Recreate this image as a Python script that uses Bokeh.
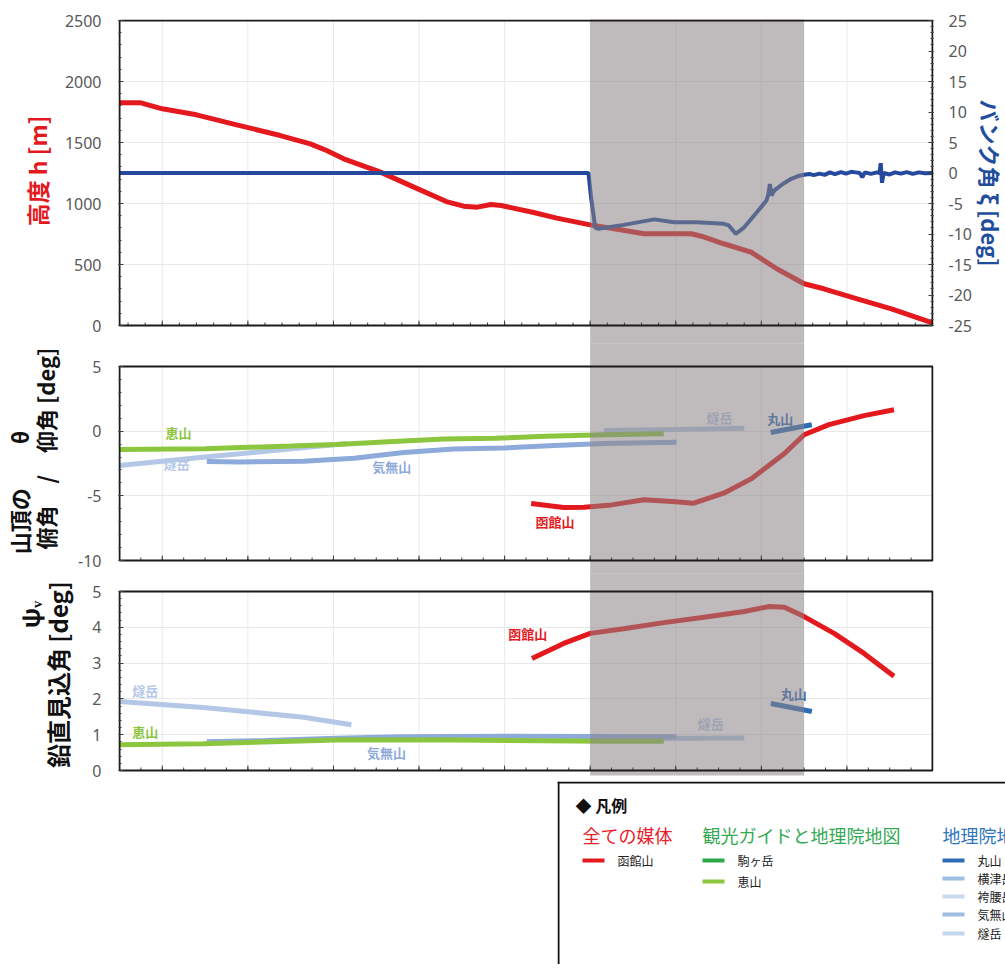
from bokeh.plotting import figure
from bokeh.layouts import column, row
from bokeh.models import Range1d, LinearAxis, FixedTicker, Spacer, CustomJSTickFormatter
from bokeh.embed import file_html
from bokeh.resources import INLINE
from bokeh.core.properties import value

nan = float("nan")

# ---------------- data ----------------
# time axis (arbitrary units, the original shows no x tick labels)
x_major = [0, 10, 20, 30, 40, 50, 60, 70, 80, 90]
x_minor_top = [-4 + 2 * i for i in range(48)]
x_minor_low = [-2.5 + 2.5 * i for i in range(38)]

alt_t = [-5, -2.5, 0, 4, 8.7, 13.8, 17.3, 19.2, 21.2, 25.5, 29.4, 33.2, 35.2, 36.8, 38.4, 39.6,
         43.4, 46.1, 50, 52.8, 56.3, 61.8, 63, 65.6, 68.8, 71.8, 75, 77.3, 81.2, 85.2, 90]
alt_h = [1825, 1825, 1776, 1727, 1645, 1557, 1489, 1434, 1366, 1257, 1134, 1016, 978, 970, 992, 984,
         926, 880, 825, 793, 752, 752, 732, 670, 601, 465, 342, 301, 219, 137, 22]

bank_t = [-5, 49.8, 50.1, 50.6, 51.0, 53.9, 57.5, 59.8, 62.5, 65.6, 66.2, 67.0, 68.0, 69.5, 70.6,
          70.8, 71.0, 71.2, 71.5, 72.5, 73.5, 74.3, 75, 75.6, 76.1, 76.8, 77.4, 78, 78.6, 79.3,
          79.9, 80.5, 81, 81.5, 81.8, 82.1, 82.8, 83.5, 83.8, 83.95, 84.1, 84.3, 85, 85.6, 86.3,
          87, 87.7, 88.4, 89.1, 90]
bank_v = [0, 0, -4, -9.0, -9.15, -8.5, -7.6, -8.06, -8.06, -8.33, -8.6, -9.97, -8.9, -6.4, -4.5,
          -3.6, -1.8, -3.7, -2.9, -1.8, -0.95, -0.5, -0.3, -0.15, -0.35, -0.1, -0.3, 0.1, -0.2,
          0.15, -0.1, 0.2, 0.1, 0.0, -0.7, 0.1, -0.15, 0.1, 0.0, 1.6, -1.6, 0.0, -0.25, 0.1,
          -0.1, 0.15, -0.15, 0.1, -0.05, 0.0]

# middle panel: summit depression / elevation angle theta [deg]
th_hako_t = [43.1, 46.9, 49.3, 52.5, 56.3, 60, 62.1, 65.6, 68.8, 72.7, 75, 77.9, 82, 85.5]
th_hako_v = [-5.6, -5.9, -5.88, -5.7, -5.3, -5.45, -5.57, -4.8, -3.69, -1.73, -0.28, 0.51, 1.2, 1.65]
th_eyama_t = [-5, 5, 15, 20.4, 27, 32.9, 38.9, 44.8, 51.6, 58.6]
th_eyama_v = [-1.42, -1.35, -1.15, -1.03, -0.8, -0.6, -0.55, -0.4, -0.28, -0.2]
th_hiuchi_t = [-5, 5, 13, 21.6, 21.7, 51.6, 60, 68]
th_hiuchi_v = [-2.65, -2.0, -1.5, -0.95, nan, 0.05, 0.12, 0.22]
th_kenashi_t = [5.2, 9, 16.5, 22.4, 28.2, 34.1, 39.9, 45.8, 51.6, 60.1]
th_kenashi_v = [-2.35, -2.38, -2.32, -2.1, -1.65, -1.37, -1.3, -1.1, -0.95, -0.85]
th_maru_t = [71.1, 73.5, 75.9]
th_maru_v = [-0.1, 0.2, 0.5]

# bottom panel: vertical visual angle psi_v [deg]
ps_hako_t = [43.2, 46.9, 50, 53.9, 58.6, 63.3, 68, 70.9, 72.7, 75, 78.5, 82, 85.5]
ps_hako_v = [3.13, 3.55, 3.83, 3.96, 4.13, 4.28, 4.44, 4.58, 4.56, 4.30, 3.83, 3.27, 2.63]
ps_eyama_t = [-5, 4.8, 20.4, 34.1, 51.6, 58.6]
ps_eyama_v = [0.72, 0.75, 0.85, 0.85, 0.82, 0.82]
ps_hiuchi_t = [-5, 4.8, 16.5, 22.1, 22.2, 51.6, 68]
ps_hiuchi_v = [1.93, 1.76, 1.49, 1.28, nan, 0.89, 0.91]
ps_kenashi_t = [5.2, 12, 20.4, 28, 40, 51.6, 60.1]
ps_kenashi_v = [0.8, 0.84, 0.9, 0.94, 0.96, 0.95, 0.94]
ps_maru_t = [71.1, 75.9]
ps_maru_v = [1.87, 1.65]

band = [50, 75]

# in-chart labels
th_lab_x = [1.9, 1.7, 26.8, 45.9, 65.1, 72.2]
th_lab_y = [-0.1, -2.5, -2.73, -7.0, 1.06, 0.98]
th_lab_t = ["恵山", "燧岳", "気無山", "函館山", "燧岳", "丸山"]
ps_lab_x = [-2, -2, 26.2, 42.7, 64.1, 73.8]
ps_lab_y = [2.23, 1.09, 0.5, 3.83, 1.31, 2.15]
ps_lab_t = ["燧岳", "恵山", "気無山", "函館山", "燧岳", "丸山"]

# legend
leg_groups = ["全ての媒体", "観光ガイドと地理院地図", "地理院地図のみ"]
leg_items = [["函館山"], ["駒ヶ岳", "恵山"], ["丸山", "横津岳", "袴腰岳", "気無山", "燧岳"]]

# ---------------- style ----------------
C_RED = "#e3191e"
C_BANK = "#25499c"
C_EYAMA = "#8cc63e"
C_HIUCHI = "#b4c7e7"
C_KENASHI = "#8eaadb"
C_MARU = "#2e6cb5"
C_KOMA = "#2ba84a"
th_lab_c = [C_EYAMA, C_HIUCHI, C_KENASHI, C_RED, C_HIUCHI, C_MARU]
ps_lab_c = [C_HIUCHI, C_EYAMA, C_KENASHI, C_RED, C_HIUCHI, C_MARU]
leg_group_c = ["#e8202a", "#35a853", "#2f76bd"]
leg_item_c = [[C_RED], [C_KOMA, C_EYAMA], [C_MARU, "#9ebfe3", "#c7daf0", "#9ebde3", "#c3d6ee"]]

FJP = "Noto Sans CJK JP"
FNUM = "Noto Sans"
BAND_COLOR = "#8b8385"
BAND_ALPHA = 0.55
BORDER = "#1a1a1a"
GRID = "#e9e9e9"

PX = 813 / 95.0          # pixels per x unit
FW = 815
BL = 115
BR = 75
OV = 2                   # overlap (px) between stacked panels
xr = Range1d(-5 - 1 / PX, 90 + 1 / PX)
fmt = CustomJSTickFormatter(code="return String(tick);")
S = "\u3000"


def style_axis(ax, ticks, minor):
    ax.ticker = FixedTicker(ticks=ticks, minor_ticks=minor)
    ax.formatter = fmt
    ax.axis_line_color = None
    ax.major_tick_in = 5
    ax.major_tick_out = 0
    ax.minor_tick_in = 3
    ax.minor_tick_out = 0
    ax.major_tick_line_color = "#404040"
    ax.minor_tick_line_color = "#404040"
    ax.major_label_text_font = FNUM
    ax.major_label_text_font_size = "16px"
    ax.major_label_text_color = "#595959"
    ax.major_label_standoff = 17
    ax.axis_label_text_font = FJP
    ax.axis_label_text_font_style = "bold"


def panel(frame_h, ylo, yhi, ystart, yend, yticks, yminor, xminor, btop, bbot, ppu):
    p = figure(frame_width=FW, frame_height=frame_h, x_range=xr, y_range=Range1d(ystart, yend),
               output_backend="svg", toolbar_location=None, x_axis_location=None,
               min_border_left=BL, min_border_right=BR, min_border_top=btop, min_border_bottom=bbot)
    p.outline_line_color = None
    p.border_fill_alpha = 0
    style_axis(p.yaxis[0], yticks, yminor)
    p.ygrid.ticker = FixedTicker(ticks=yticks)
    p.ygrid.grid_line_color = GRID
    p.xgrid.visible = False
    # vertical grid lines only inside the panel
    p.segment(x0=x_major, y0=[ylo] * len(x_major), x1=x_major, y1=[yhi] * len(x_major),
              line_color=GRID, line_width=1)
    p._panel = (ylo, yhi, xminor, ppu)
    return p


def finish(p):
    ylo, yhi, xminor, ppu = p._panel
    yr = p.y_range
    span = yr.end - yr.start
    p.quad(left=[band[0]], right=[band[1]], bottom=[yr.start - span], top=[yr.end + span],
           fill_color=BAND_COLOR, fill_alpha=BAND_ALPHA, line_color=None)
    # bottom tick marks (inward)
    p.segment(x0=x_major, y0=[ylo] * len(x_major), x1=x_major,
              y1=[ylo + 5 / ppu] * len(x_major), line_color="#404040", line_width=1)
    p.segment(x0=xminor, y0=[ylo] * len(xminor), x1=xminor,
              y1=[ylo + 3 / ppu] * len(xminor), line_color="#404040", line_width=1)
    # panel border
    p.quad(left=[-5], right=[90], bottom=[ylo], top=[yhi], fill_color=None,
           line_color=BORDER, line_width=2)


# ---------- top panel ----------
s_top = 305 / 2500.0
top = panel(326, 0, 2500, -20 / s_top, 2500 + 1 / s_top, list(range(0, 2501, 500)),
            list(range(0, 2501, 100)), x_minor_top, 19, 0, s_top)
s_bank = 305 / 50.0
top.extra_y_ranges = {"bank": Range1d(-25 - 20 / s_bank, 25 + 1 / s_bank)}
rax = LinearAxis(y_range_name="bank")
style_axis(rax, list(range(-25, 26, 5)), list(range(-25, 26, 1)))
rax.major_label_standoff = 15
rax.axis_label = "バンク角 ξ [deg]"
rax.axis_label_text_color = "#1f4e9c"
rax.axis_label_text_font_size = "22px"
rax.axis_label_standoff = 0
top.add_layout(rax, "right")
lax = top.yaxis[0]
lax.axis_label = S + "高度 h [m]"
lax.axis_label_text_color = "#e3191e"
lax.axis_label_text_font_size = "23px"
lax.axis_label_standoff = 8
top.line(alt_t, alt_h, line_color=C_RED, line_width=5)
top.line(bank_t, bank_v, y_range_name="bank", line_color=C_BANK, line_width=4)
finish(top)

# ---------- middle panel ----------
s_mid = 194 / 15.0
mid = panel(230 + OV, -10, 5, -10 - 15 / s_mid, 5 + (21 + OV) / s_mid, [-10, -5, 0, 5],
            list(range(-10, 6)), x_minor_low, 0, 0, s_mid)
mid.margin = (-OV, 0, 0, 0)
max_ = mid.yaxis[0]
max_.axis_label = "山頂の" + S + S + "θ" + S * 3 + "\n" + S + "俯角" + S + "/" + S + "仰角 [deg]"
max_.axis_label_text_color = "#111111"
max_.axis_label_text_font_size = "22px"
max_.axis_label_text_line_height = 0.8
max_.axis_label_standoff = 14
mid.text(th_lab_x, th_lab_y, text=th_lab_t, text_color=th_lab_c, text_font=value(FJP),
         text_font_size="13px", text_font_style="bold", text_align="center", text_baseline="middle")
mid.line(th_hiuchi_t, th_hiuchi_v, line_color=C_HIUCHI, line_width=5)
mid.line(th_kenashi_t, th_kenashi_v, line_color=C_KENASHI, line_width=5)
mid.line(th_eyama_t, th_eyama_v, line_color=C_EYAMA, line_width=5)
mid.line(th_maru_t, th_maru_v, line_color=C_MARU, line_width=5)
mid.line(th_hako_t, th_hako_v, line_color=C_RED, line_width=5)
finish(mid)

# ---------- bottom panel ----------
s_bot = 179 / 5.0
bot = panel(200 + OV, 0, 5, -5 / s_bot, 5 + (16 + OV) / s_bot, [0, 1, 2, 3, 4, 5],
            [i / 5 for i in range(26)], x_minor_low, 0, 6, s_bot)
bot.margin = (-OV, 0, 0, 0)
bax = bot.yaxis[0]
bax.axis_label = S * 5 + "ψᵥ\n鉛直見込角 [deg]"
bax.axis_label_text_color = "#111111"
bax.axis_label_text_font_size = "24px"
bax.axis_label_text_line_height = 0.8
bax.axis_label_standoff = 14
bot.text(ps_lab_x, ps_lab_y, text=ps_lab_t, text_color=ps_lab_c, text_font=value(FJP),
         text_font_size="13px", text_font_style="bold", text_align="center", text_baseline="middle")
bot.line(ps_hiuchi_t, ps_hiuchi_v, line_color=C_HIUCHI, line_width=5)
bot.line(ps_kenashi_t, ps_kenashi_v, line_color=C_KENASHI, line_width=5)
bot.line(ps_eyama_t, ps_eyama_v, line_color=C_EYAMA, line_width=5)
bot.line(ps_maru_t, ps_maru_v, line_color=C_MARU, line_width=5)
bot.line(ps_hako_t, ps_hako_v, line_color=C_RED, line_width=5)
finish(bot)

# ---------- legend ----------
LW, LH = 448, 183
leg = figure(frame_width=LW, frame_height=LH, x_range=Range1d(0, LW), y_range=Range1d(LH, 0),
             output_backend="svg", toolbar_location=None, x_axis_location=None,
             y_axis_location=None, min_border_left=0, min_border_right=0,
             min_border_top=0, min_border_bottom=0)
leg.outline_line_color = None
leg.grid.visible = False
leg.segment(x0=[0, 1], y0=[1, 0], x1=[LW, 1], y1=[1, LH], line_color="#111111", line_width=2)
leg.text([18], [23], text=["◆ 凡例"], text_font=value(FJP), text_font_size="16px",
         text_font_style="bold", text_color="#111111", text_baseline="middle")
col_x = [25, 145, 385]
row_y = [[79], [79, 100], [79, 97, 115, 133, 152]]
leg.text(col_x, [53, 53, 53], text=leg_groups, text_color=leg_group_c, text_font=value(FJP),
         text_font_size="18px", text_baseline="middle")
sx0, sx1, sy, tx, tt, sc = [], [], [], [], [], []
for gi, items in enumerate(leg_items):
    for ii, name in enumerate(items):
        sx0.append(col_x[gi])
        sx1.append(col_x[gi] + 22)
        sy.append(row_y[gi][ii])
        sc.append(leg_item_c[gi][ii])
        tx.append(col_x[gi] + 35)
        tt.append(name)
leg.segment(x0=sx0, y0=sy, x1=sx1, y1=sy, line_color=sc, line_width=4)
leg.text(tx, sy, text=tt, text_font=value(FJP), text_font_size="12px", text_color="#222222",
         text_baseline="middle")

layout = column(top, mid, bot, row(Spacer(width=557, height=183), leg, spacing=0), spacing=0)

open("out.html", "w").write(file_html(layout, INLINE))
